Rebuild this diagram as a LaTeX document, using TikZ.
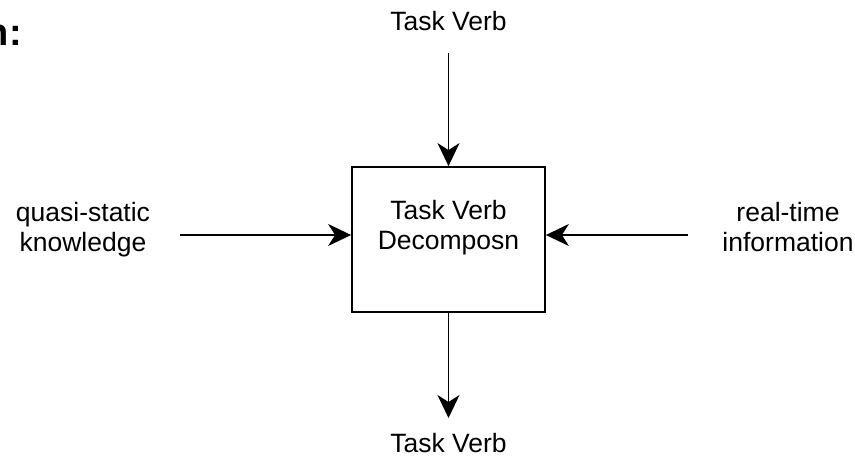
\documentclass[tikz,border=0pt]{standalone}
\usepackage{fontspec}
\setmainfont{Liberation Sans}
\usetikzlibrary{arrows.meta}
\begin{document}
\begin{tikzpicture}[x=1pt,y=-1pt,
  lbl/.style={font=\fontsize{26.5}{30}\selectfont, align=center, inner sep=0pt},
  conn/.style={line width=1.8pt, -{Stealth[length=23pt,width=22pt,inset=7pt]}}]
\useasboundingbox (0,0) rectangle (855,456);
\node[font=\fontsize{38}{40}\selectfont\bfseries, anchor=base east, inner sep=0pt] (cut) at (22,45) {n:};
\node[draw, line width=1.8pt, minimum width=193pt, minimum height=145pt, inner sep=0pt] (box) at (448.5,239.5) {};
\node[lbl, anchor=base] (boxtxt) at (448.5,249) {Task Verb\\Decomposn};
\node[lbl, anchor=base] (top) at (448.5,30) {Task Verb};
\node[lbl, anchor=base] (bot) at (448.5,452) {Task Verb};
\node[lbl, anchor=base] (left) at (83,251) {quasi-static\\knowledge};
\node[lbl, anchor=base] (right) at (788,251) {real-time\\information};
\coordinate (ctop) at (448.5,53);
\coordinate (cbot) at (448.5,418);
\coordinate (cleft) at (180,235);
\coordinate (cright) at (688,235);
\draw[conn] (ctop) -- (box.north);
\draw[conn] (box.south) -- (cbot);
\draw[conn] (cleft) -- (box.west |- cleft);
\draw[conn] (cright) -- (box.east |- cright);
\end{tikzpicture}
\end{document}
